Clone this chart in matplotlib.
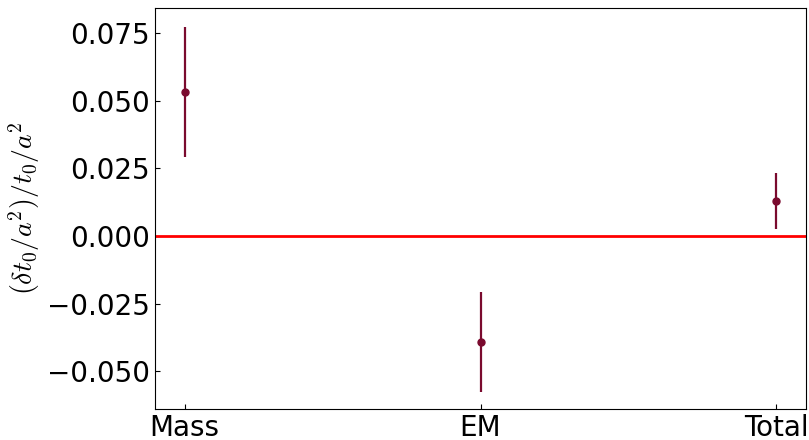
import matplotlib
matplotlib.use("Agg")
import matplotlib.pyplot as plt

plt.rcParams['mathtext.fontset'] = 'cm'

categories = ["Mass", "EM", "Total"]
values = [0.0533, -0.0392, 0.0129]
errors = [0.0241, 0.0185, 0.0102]

fig = plt.figure(figsize=(8.09, 4.4), dpi=100)
ax = fig.add_axes([155/809, 31/440, 651/809, 401/440])
x = list(range(len(categories)))
ax.errorbar(x, values, yerr=errors, fmt='o', color='#7a0a2e', ms=5, elinewidth=1.6, capsize=0)
ax.axhline(0, color='red', lw=2)
ax.set_xticks(x)
ax.set_xticklabels(categories)
ax.set_xlim(-0.1, 2.1)
ax.set_ylim(-0.0640, 0.0843)
ax.set_yticks([-0.05, -0.025, 0.0, 0.025, 0.05, 0.075])
ax.tick_params(direction='in', labelsize=20)
ax.set_ylabel(r'$(\delta t_0/a^2)/t_0/a^2$', fontsize=20)
fig.savefig("out.png", dpi=100)
